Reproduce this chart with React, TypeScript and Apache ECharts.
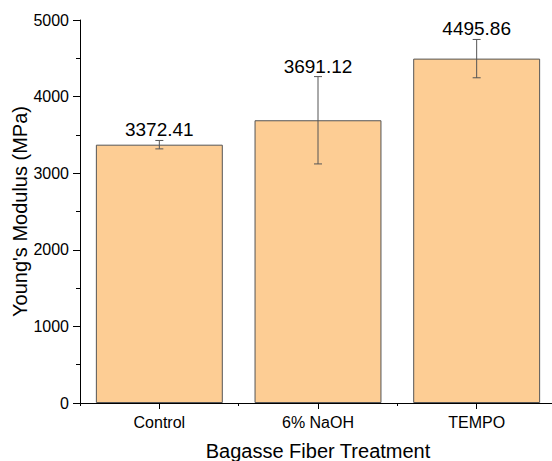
import React, { useEffect, useRef } from "react";
import * as echarts from "echarts";

const categories = ["Control", "6% NaOH", "TEMPO"];
const means = [3372.41, 3691.12, 4495.86];
const errors = [55, 570, 250];
const yTicks = [0, 1000, 2000, 3000, 4000, 5000];

const FONT = "'Liberation Sans', Arial, sans-serif";

export default function App() {
  const ref = useRef<HTMLDivElement>(null);
  useEffect(() => {
    if (!ref.current) return;
    const chart = echarts.init(ref.current, null, { renderer: "svg" });
    const errData = means.map((m, i) => [i, m - errors[i], m + errors[i], m]);
    chart.setOption({
      animation: false,
      textStyle: { fontFamily: FONT },
      grid: { left: 80, top: 20, bottom: 58, right: 0, containLabel: false, outerBoundsMode: "none" },
      xAxis: [
        {
          type: "category",
          data: categories,
          boundaryGap: true,
          name: "Bagasse Fiber Treatment",
          nameLocation: "middle",
          nameGap: 38,
          nameMoveOverlap: false,
          nameTextStyle: { fontSize: 20, color: "#000", fontFamily: FONT },
          axisLine: { lineStyle: { color: "#000", width: 1 } },
          axisTick: { show: true, alignWithLabel: true, inside: false, length: 6, lineStyle: { color: "#000" } },
          axisLabel: { fontSize: 16, color: "#000", margin: 11, fontFamily: FONT },
          splitLine: { show: false },
        },
        {
          type: "category",
          data: categories,
          boundaryGap: true,
          position: "bottom",
          axisLine: { show: false },
          axisTick: { show: true, alignWithLabel: false, length: 3, lineStyle: { color: "#000" } },
          axisLabel: { show: false },
          splitLine: { show: false },
        },
      ],
      yAxis: {
        type: "value",
        min: yTicks[0],
        max: yTicks[yTicks.length - 1],
        interval: 1000,
        name: "Young's Modulus (MPa)",
        nameLocation: "middle",
        nameGap: 50,
        nameMoveOverlap: false,
        nameTextStyle: { fontSize: 20, color: "#000", fontFamily: FONT },
        axisLine: { show: true, lineStyle: { color: "#000", width: 1 } },
        axisTick: { show: true, length: 7, lineStyle: { color: "#000" } },
        minorTick: { show: true, splitNumber: 2, length: 4, lineStyle: { color: "#000" } },
        axisLabel: {
          fontSize: 16,
          color: "#000",
          margin: 11,
          fontFamily: FONT,
          formatter: (v: number) => String(v),
        },
        splitLine: { show: false },
      },
      series: [
        {
          type: "bar",
          xAxisIndex: 0,
          data: means,
          barCategoryGap: "20%",
          itemStyle: { color: "#FDCD94", borderColor: "#555", borderWidth: 1 },
        },
        {
          type: "custom",
          xAxisIndex: 0,
          data: errData,
          encode: { x: 0, y: [1, 2] },
          z: 5,
          renderItem: (params: any, api: any) => {
            const x = api.value(0);
            const lo = api.coord([x, api.value(1)]);
            const hi = api.coord([x, api.value(2)]);
            const cap = 4;
            const style = { stroke: "#555", lineWidth: 1 };
            const mean = api.value(3);
            return {
              type: "group",
              children: [
                { type: "line", shape: { x1: hi[0], y1: hi[1], x2: lo[0], y2: lo[1] }, style },
                { type: "line", shape: { x1: hi[0] - cap, y1: hi[1], x2: hi[0] + cap, y2: hi[1] }, style },
                { type: "line", shape: { x1: lo[0] - cap, y1: lo[1], x2: lo[0] + cap, y2: lo[1] }, style },
                {
                  type: "text",
                  x: hi[0],
                  y: hi[1] - 1,
                  style: {
                    text: mean.toFixed(2),
                    fontSize: 19,
                    fontFamily: FONT,
                    fill: "#000",
                    align: "center",
                    verticalAlign: "bottom",
                  },
                },
              ],
            };
          },
        },
      ],
    });
    return () => chart.dispose();
  }, []);
  return (
    <div
      style={{
        position: "fixed",
        left: 0,
        top: 0,
        width: 552,
        height: 461,
        overflow: "hidden",
        background: "#fff",
      }}
    >
      <div ref={ref} style={{ width: 556, height: 461 }} />
    </div>
  );
}
